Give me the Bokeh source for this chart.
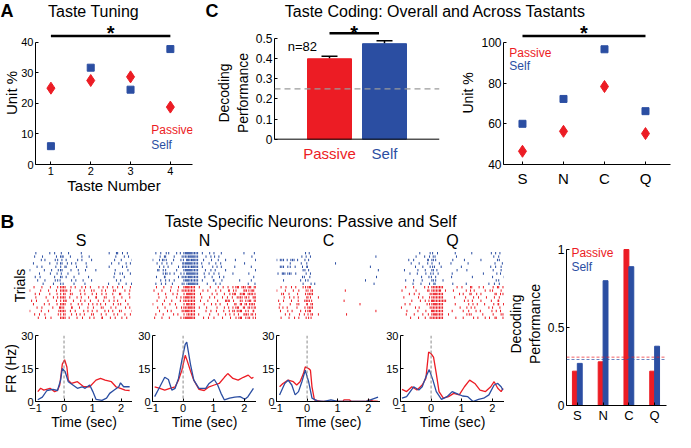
from bokeh.plotting import figure
from bokeh.layouts import row, column
from bokeh.models import Span, FixedTicker, Range1d, Whisker, TeeHead, ColumnDataSource
from bokeh.embed import file_html
from bokeh.resources import INLINE
from bokeh.core.properties import value

RED = "#ec1c24"
BLUE = "#2b4ea2"
FONT = "Liberation Sans"

# ---------------- data ----------------
# Panel A: taste tuning
taste_number = [1, 2, 3, 4]
a_passive = [25.0, 27.5, 28.7, 18.8]
a_self = [6.0, 31.7, 24.5, 37.8]

# Panel C left: overall decoding
c_conditions = ["Passive", "Self"]
c_decoding = [0.40, 0.475]
c_sem = [0.012, 0.015]
c_chance = 0.25
c_n_label = "n=82"

# Panel C right: unit % per tastant
tastants = ["S", "N", "C", "Q"]
c_passive_unit = [46.5, 56.3, 78.3, 55.2]
c_self_unit = [60.0, 72.2, 96.6, 66.2]

# Panel B right: decoding per tastant
b_passive_dec = [0.22, 0.28, 1.0, 0.22]
b_self_dec = [0.27, 0.80, 0.89, 0.38]
b_chance_passive = 0.31
b_chance_self = 0.295

# Panel B PSTHs (time in s, FR in Hz)
s_passive_t = [-0.92, -0.82, -0.71, -0.49, -0.33, -0.23, -0.15, -0.06, 0.02, 0.10, 0.15, 0.26, 0.47, 0.69, 0.90, 1.12, 1.28, 1.44, 1.66, 1.82, 1.98, 2.14, 2.30]
s_passive_fr = [4.5, 6.0, 5.2, 6.0, 4.5, 5.0, 7.5, 17.0, 19.0, 15.7, 9.7, 8.2, 9.0, 6.7, 6.7, 9.7, 10.5, 9.7, 9.0, 6.7, 6.0, 5.2, 5.0]
s_self_t = [-0.92, -0.76, -0.60, -0.39, -0.23, -0.12, -0.06, 0.04, 0.15, 0.31, 0.47, 0.63, 0.74, 0.90, 1.01, 1.12, 1.33, 1.49, 1.60, 1.76, 1.92, 1.98, 2.09, 2.30]
s_self_fr = [0.8, 2.0, 5.0, 5.5, 5.0, 9.7, 15.0, 13.5, 9.0, 7.5, 6.0, 6.7, 6.0, 7.5, 4.5, 1.0, 0.5, 1.5, 3.7, 5.2, 6.7, 8.5, 6.7, 6.7]

n_passive_t = [-0.93, -0.76, -0.60, -0.43, -0.26, -0.15, -0.04, 0.07, 0.13, 0.24, 0.35, 0.52, 0.69, 0.85, 1.02, 1.18, 1.35, 1.46, 1.63, 1.80, 1.97, 2.13, 2.24, 2.30]
n_passive_fr = [6.7, 6.0, 5.2, 6.0, 6.7, 9.7, 14.2, 21.0, 18.7, 14.0, 9.7, 5.5, 5.0, 6.7, 7.5, 8.2, 11.0, 12.7, 10.5, 9.7, 11.0, 12.0, 10.5, 11.0]
n_self_t = [-0.93, -0.76, -0.60, -0.48, -0.37, -0.26, -0.15, -0.04, 0.07, 0.12, 0.24, 0.35, 0.52, 0.74, 0.85, 1.02, 1.13, 1.24, 1.35, 1.52, 1.69, 1.86, 2.02, 2.12, 2.30]
n_self_fr = [2.2, 6.7, 11.0, 10.0, 5.2, 6.0, 10.5, 18.7, 26.0, 27.0, 17.0, 9.7, 6.0, 6.0, 8.2, 10.0, 7.5, 3.7, 0.7, 1.5, 2.0, 2.2, 1.0, 2.2, 6.0]

c_passive_t = [-0.90, -0.79, -0.62, -0.45, -0.34, -0.23, -0.12, -0.06, 0.05, 0.11, 0.16, 0.24, 0.45, 1.17, 1.20, 1.39, 1.45, 1.95, 2.00, 2.15, 2.32]
c_passive_fr = [6.7, 8.2, 9.7, 9.0, 7.5, 9.0, 12.7, 15.7, 15.0, 14.2, 6.7, 0.7, 0.0, 0.0, 0.7, 0.7, 0.0, 0.0, 0.7, 0.3, 0.0]
c_self_t = [-0.90, -0.73, -0.62, -0.50, -0.39, -0.28, -0.17, -0.06, 0.05, 0.16, 0.33, 0.55, 0.78, 1.00, 1.90, 2.07, 2.32]
c_self_fr = [3.0, 8.2, 9.7, 7.5, 3.0, 4.5, 9.0, 14.2, 9.0, 1.5, 0.3, 0.0, 0.7, 0.0, 0.0, 0.7, 2.0]

q_passive_t = [-0.95, -0.80, -0.63, -0.46, -0.29, -0.17, -0.08, 0.00, 0.08, 0.17, 0.26, 0.40, 0.57, 0.74, 0.92, 1.09, 1.26, 1.43, 1.60, 1.78, 1.95, 2.06, 2.18, 2.29, 2.35]
q_passive_fr = [5.5, 4.5, 6.7, 5.2, 7.5, 10.5, 22.5, 21.7, 20.2, 12.7, 4.5, 1.5, 2.2, 3.7, 3.0, 6.7, 9.7, 8.2, 5.2, 4.5, 6.7, 9.0, 6.0, 4.5, 6.0]
q_self_t = [-0.95, -0.80, -0.57, -0.40, -0.29, -0.17, -0.06, 0.06, 0.17, 0.34, 0.52, 0.69, 0.86, 1.03, 1.20, 1.37, 1.55, 1.72, 1.89, 2.06, 2.18, 2.29, 2.35]
q_self_fr = [1.5, 2.2, 6.7, 5.2, 6.7, 11.2, 14.5, 9.7, 4.5, 1.0, 2.2, 4.5, 3.5, 2.5, 2.2, 0.0, 1.0, 1.5, 3.0, 7.5, 8.2, 6.7, 5.2]

# Panel B rasters: one string per trial (top trial first), one char per 0.1 s bin from -1.0 to 2.4 s.
# '.' = no spike, 'a'..'e' = one spike at 0.1/0.3/0.5/0.7/0.9 of the bin, '2'/'3' = that many spikes.
s_self_raster = [
    "..a...d.b. c.e....a.. ......b.da d.b.",
    ".d..b...e. 2a.c...b.d ........c. .bd.",
    "...e.a..cb d.a..e.b.. c.......a. b..e",
    ".b....d..a 2.ce.b..d. .......a.c .e.b",
    "..c.a...d. bda..c..e. ......b... d.a.",
    "a...e..b.c 2..d..a.c. .e......b. ..c.",
    "...b..e..a c.d...b... ........ae d..b",
    ".e.c....b. 2.a.d....c .......e.. .b..",
    "..d..a..cb a..e.b.d.. c.......d. a...",
    "....c..e.. ba..d...b. ......a..c .e.d",
]
s_passive_raster = [
    ".c..a.e..b 22.d.a.bc. a.e.bd.c.a d..b",
    "a..d..b.e. 22bc..d.a. cb.e.a.db. .c.a",
    ".e.b..d..a b2.ca.e.b. d.ae.b.c.d a.e.",
    "..a..c.e.b 22.b.d.a.c .ea.db.e.. c..a",
    "d.b...a.e. b2a.c.e.b. a.d.c.be.a .d..",
    ".b..e.c..a 22.d..ab.c e.bc.a.d.b a.c.",
    "..c.a..d.e 2b.ea.c..b .a.db.e.c. .d.a",
    "a..e..b..d 22.c.a.e.b d.b.e.ac.d b..e",
    ".d.b.a...c b2.e.cd.a. ca.d.b.e.a .c.b",
    "..e..b.a.. 22.a.d.c.e .b.ea.d.b. c.a.",
]
n_self_raster = [
    ".ad.cb.e.a 23322.b.d. a.c......e ...b",
    "..ceb..a.d 22332..c.a bd........ ..c.",
    "a.b2c.e..b a3232.d..b .c.e...a.. ...d",
    ".c.ad.b..e 23322.a.c. d.b....... a...",
    "..bd.a..ce 22232.b..d .ac...e... ..b.",
    ".dacb..e.. 23322..b.a c..e...... ...d",
    "...c2d.a.b b3332.e.c. ad....b... .c..",
    ".b.ea...cd 22322..a.c .e.b...... ...a",
    "..d.bc.a.. 23222.b..e a.d.....c. ..b.",
    ".ae.b.c..d b2332..e.. d.a....... .b.c",
]
n_passive_raster = [
    ".b.d..a.c. 2322.b..e. .c.ad.b2a2 b2a2",
    "c..a.e..bd 2222..c.a. d.b.eacb.e 2c2a",
    ".e..b.d.a. b332.d...c .a.c.b2ad2 a22c",
    "..a.c..e.b 2322..a.d. b.e.c.ad2b 2ce2",
    ".c.e..b..a 2222.d..a. .b.e2ac.db c2a2",
    "a..b.d.c.. b322..e..b d.a.c.ebda 2d2b",
    ".d..a..e.c 2232.b.d.. .a.ce.b2ad a2c2",
    "..b.e.a..d 2322...c.a e..b.a2d2a cbea",
    ".a.c..e.b. b222.a..d. .c.e.bd.ae 2b2d",
    "d..a.c...b 2332..d.b. a.e..c.b2a c2ed",
]
c_self_raster = [
    ".........c d......... .......... ....",
    "........bd .a........ .......... ..c.",
    "a2bcd2e..b c......... .......... ....",
    "....c...ae .........b .......... ....",
    ".2bdc.a.ce a......... .......... d...",
    "........db c......... .......... ...b",
    "ce2d2.b..d .a........ .......... ....",
    "........ca e......... .......... ..d.",
    "..b....e.c b......... .........a ....",
    "........d. .bc....... .......... .e..",
]
c_passive_raster = [
    ".c.ae.b.dc 2a........ .......... ....",
    "a.e..c.b.d b2........ ..c....... ....",
    ".db.a.e..c 22........ .......... ....",
    "..c.bd.a.e ba.d...... .......... ....",
    "d.b.e..a.2 2c........ ..a....... ....",
    ".a..c.db.e a2........ .......b.. ....",
    "e.ac..d..b 22........ .......... ....",
    ".b.d.a.e.c 2a........ .......... ..c.",
    "..e.b..c.a b2.d...... ..e....... ....",
    ".c..ae.b.d cb........ .......... ....",
]
q_self_raster = [
    "......b..d c.a....e.. ...b.....d .ac.",
    ".....a.e.c db......b. .......... c.a.",
    "..d.b...ea 2c.....a.. e.....b... .db.",
    "...c..a.e. b.d...c... ..a....... e..b",
    "....e..b.d ca.b.....e .........c .ae.",
    ".b...d..a. 2e......c. .d........ b.e.",
    "...a.c..be d.b...e... .......a.. .cd.",
    "......e..b ac....d... ...c...... a..e",
    ".d..b..a.. 2c.e...... .......... .ba.",
    "....a.d..c eb.....a.. .c......e. d.b.",
]
q_passive_raster = [
    ".d..b..e.a 2222....c. a.eb.d.a.. bdac",
    "c....a..eb 222ad..b.. .ce.a..d.b a.e.",
    "..e.c.a..d 2322.....b c.dae.b... ebdc",
    ".a...e.b.c 2222...d.. .b.e.c..a. d.b.",
    "...d..c.ab 32222..... e.ac..b..d .ea.",
    ".c.a....dc 2322...e.. ..bd.a.c.. cead",
    "b...e.a..d 2222.....c .d.ab...e. a.c.",
    "..a..d..b. 3222..e... c.b.d.a..e .bd.",
    ".e..c..b.a 2322.d.... .dca..e... b.ec",
    "...b.e..ad 2222....a. c..e.b.d.a eb.c",
]

psth_ticks_x = [-1, 0, 1, 2]
psth_ticks_y = [0, 15, 30]


# ---------------- helpers ----------------
def base_fig(w, h, xr, yr, bl, br, bt, bb, tick_size="12px"):
    p = figure(width=w, height=h, x_range=Range1d(*xr), y_range=Range1d(*yr),
               output_backend="svg", toolbar_location=None,
               min_border_left=bl, min_border_right=br, min_border_top=bt, min_border_bottom=bb)
    p.grid.visible = False
    p.outline_line_color = None
    p.background_fill_color = "white"
    p.border_fill_color = "white"
    for ax in p.axis:
        ax.axis_line_color = "black"
        ax.axis_line_width = 1
        ax.major_tick_in = 3
        ax.major_tick_out = 0
        ax.major_tick_line_color = "black"
        ax.minor_tick_line_color = None
        ax.major_label_text_font = FONT
        ax.major_label_text_font_size = tick_size
        ax.major_label_text_color = "black"
        ax.major_label_standoff = 2
        ax.axis_label_text_font = FONT
        ax.axis_label_text_font_style = "normal"
        ax.axis_label_text_font_size = "14px"
        ax.axis_label_text_color = "black"
        ax.axis_label_standoff = 2
    return p


def strip_fig(w, h):
    p = figure(width=w, height=h, x_range=Range1d(0, w), y_range=Range1d(0, h),
               output_backend="svg", toolbar_location=None,
               min_border_left=0, min_border_right=0, min_border_top=0, min_border_bottom=0)
    p.axis.visible = False
    p.grid.visible = False
    p.outline_line_color = None
    return p


def txt(p, x, y, s, color="black", size="14px", align="left", baseline="middle", style="normal"):
    p.text(x=[x], y=[y], text=[s], text_color=color, text_font=value(FONT),
           text_font_size=size, text_align=align, text_baseline=baseline,
           text_font_style=style)


# ---------------- title strip (top) ----------------
strip1 = strip_fig(675, 21)
txt(strip1, 0, 10.5, "A", size="18px", style="bold")
txt(strip1, 93, 10.5, "Taste Tuning", size="16px", align="center")
txt(strip1, 205, 10.5, "C", size="18px", style="bold")
txt(strip1, 435, 10.5, "Taste Coding: Overall and Across Tastants", size="16px", align="center")

# ---------------- Panel A ----------------
pA = base_fig(197, 175, (0.613, 4.556), (0, 46.83), 29, 5, 0, 31, tick_size="11px")
pA.xaxis.ticker = FixedTicker(ticks=taste_number)
pA.yaxis.ticker = FixedTicker(ticks=[0, 10, 20, 30, 40])
pA.yaxis.bounds = (0, 40)
pA.xaxis.axis_label = "Taste Number"
pA.xaxis.axis_label_text_font_size = "15px"
pA.xaxis.axis_label_standoff = -1
pA.yaxis.axis_label = "Unit %"
pA.yaxis.axis_label_text_font_size = "15px"
pA.yaxis.axis_label_standoff = -2
pA.scatter(taste_number, a_passive, marker="diamond", size=12, color=RED)
pA.scatter(taste_number, a_self, marker="square", size=7, color=BLUE)
pA.segment(x0=[1], x1=[4], y0=[42.11], y1=[42.11], line_color="black", line_width=2.5)
txt(pA, 2.5, 46.67, "*", size="20px", align="center", baseline="top", style="bold")
txt(pA, 3.52, 11.4, "Passive", color=RED, size="12px")
txt(pA, 3.52, 6.5, "Self", color=BLUE, size="12px")

# ---------------- Panel C left ----------------
pC1 = base_fig(250, 175, (0, 3), (-0.126, 0.5854), 77, 8, 0, 0)
pC1.xaxis.visible = False
pC1.yaxis.ticker = FixedTicker(ticks=[0, 0.1, 0.2, 0.3, 0.4, 0.5])
pC1.yaxis.major_label_overrides = {0: "0"}
pC1.yaxis.bounds = (0, 0.5)
pC1.yaxis.axis_label = "Decoding\nPerformance"
cx = [1, 2]
pC1.vbar(x=cx, top=c_decoding, width=0.8, color=[RED, BLUE])
src = ColumnDataSource(dict(x=cx, lo=c_decoding, hi=[d + e for d, e in zip(c_decoding, c_sem)]))
pC1.add_layout(Whisker(base="x", upper="hi", lower="lo", source=src, line_color="black", line_width=1.5,
                       upper_head=TeeHead(size=16, line_color="black", line_width=1.5), lower_head=None))
pC1.add_layout(Span(location=0, dimension="width", line_color="black", line_width=1))
pC1.add_layout(Span(location=c_chance, dimension="width", line_color="#9a9a9a", line_width=1.2, line_dash="6 4"))
pC1.segment(x0=[1.0], x1=[1.9], y0=[0.5264], y1=[0.5264], line_color="black", line_width=2.5)
txt(pC1, 1.45, 0.5833, "*", size="20px", align="center", baseline="top", style="bold")
txt(pC1, 0.24, 0.46, c_n_label, size="13px")
for xi, name, col in zip(cx, c_conditions, [RED, BLUE]):
    txt(pC1, xi, -0.069, name, color=col, size="15px", align="center")

# ---------------- Panel C right ----------------
pC2 = base_fig(228, 175, (0.537, 4.61), (40, 110.24), 56, 5, 0, 31)
tx = [1, 2, 3, 4]
pC2.xaxis.ticker = FixedTicker(ticks=tx)
pC2.xaxis.major_label_overrides = {i: t for i, t in zip(tx, tastants)}
pC2.xaxis.major_label_text_font_size = "15px"
pC2.xaxis.major_label_standoff = 5
pC2.yaxis.ticker = FixedTicker(ticks=[40, 60, 80, 100])
pC2.yaxis.bounds = (40, 100)
pC2.yaxis.axis_label = "Unit %"
pC2.yaxis.axis_label_text_font_size = "14px"
pC2.scatter(tx, c_passive_unit, marker="diamond", size=12, color=RED)
pC2.scatter(tx, c_self_unit, marker="square", size=7, color=BLUE)
pC2.segment(x0=[1], x1=[4], y0=[103.17], y1=[103.17], line_color="black", line_width=2.5)
txt(pC2, 2.5, 110.0, "*", size="20px", align="center", baseline="top", style="bold")
txt(pC2, 0.68, 94.6, "Passive", color=RED, size="12px")
txt(pC2, 0.68, 88.3, "Self", color=BLUE, size="12px")

# ---------------- Panel B strip ----------------
stripB = strip_fig(504, 54)
txt(stripB, 0, 29, "B", size="19px", style="bold")
txt(stripB, 310, 29, "Taste Specific Neurons: Passive and Self", size="16px", align="center")

# ---------------- rasters and PSTHs ----------------
POS = {"a": 0.1, "b": 0.3, "c": 0.5, "d": 0.7, "e": 0.9}


def spikes(rows, offset):
    x, y0, y1 = [], [], []
    n_rows = len(rows)
    for k, r in enumerate(rows):
        s = r.replace(" ", "")
        base = offset + (n_rows - 1 - k)
        for i, ch in enumerate(s):
            if ch in POS:
                fr = [POS[ch]]
            elif ch.isdigit() and int(ch) > 0:
                n = int(ch)
                fr = [(j + 0.5) / n for j in range(n)]
            else:
                fr = []
            for f in fr:
                x.append(-1.0 + 0.1 * i + 0.1 * f)
                y0.append(base + 0.15)
                y1.append(base + 0.85)
    return x, y0, y1


panels = [
    ("S", s_self_raster, s_passive_raster, s_self_t, s_self_fr, s_passive_t, s_passive_fr),
    ("N", n_self_raster, n_passive_raster, n_self_t, n_self_fr, n_passive_t, n_passive_fr),
    ("C", c_self_raster, c_passive_raster, c_self_t, c_self_fr, c_passive_t, c_passive_fr),
    ("Q", q_self_raster, q_passive_raster, q_self_t, q_self_fr, q_passive_t, q_passive_fr),
]

raster_figs, psth_figs = [], []
x_left = 0
for idx, (name, sr, pr, st, sf, pt, pf) in enumerate(panels):
    first = idx == 0
    bl = 29 if first else 20
    fw = 103 if first else 104
    w = bl + fw
    rf = base_fig(w, 72, (-1, 2.4), (0, 20), bl, 0, 1, 3)
    rf.xaxis.visible = False
    if first:
        rf.yaxis.ticker = FixedTicker(ticks=[])
        rf.yaxis.axis_line_color = None
        rf.yaxis.major_label_text_font_size = "0px"
        rf.yaxis.axis_label = "Trials"
        rf.yaxis.axis_label_standoff = 2
    else:
        rf.yaxis.visible = False
    xs, a, b = spikes(sr, 10)
    rf.segment(x0=xs, x1=xs, y0=a, y1=b, line_color=BLUE, line_width=1)
    xs, a, b = spikes(pr, 0)
    rf.segment(x0=xs, x1=xs, y0=a, y1=b, line_color=RED, line_width=1)
    txt(stripB, x_left + bl + fw / 2, 10, name, size="16px", align="center")
    raster_figs.append(rf)

    p = base_fig(w, 110, (-1, 2.4), (0, 30), bl, 0, 13, 31, tick_size="11px")
    p.xaxis.ticker = FixedTicker(ticks=psth_ticks_x)
    p.yaxis.ticker = FixedTicker(ticks=psth_ticks_y)
    p.xaxis.axis_label = "Time (sec)"
    p.xaxis.axis_label_standoff = -1
    p.add_layout(Span(location=0, dimension="height", line_color="#8a8a8a", line_width=1, line_dash="3 2"))
    p.line(pt, pf, line_color=RED, line_width=1.3)
    p.line(st, sf, line_color=BLUE, line_width=1.3)
    if first:
        p.yaxis.axis_label = "FR (Hz)"
        p.yaxis.axis_label_standoff = -1
    psth_figs.append(p)
    x_left += w

# ---------------- Panel B right bar chart ----------------
pB = base_fig(171, 236, (0.58, 4.46), (0, 1.045), 60, 9, 46, 27)
pB.xaxis.ticker = FixedTicker(ticks=tx)
pB.xaxis.major_label_overrides = {i: t for i, t in zip(tx, tastants)}
pB.xaxis.major_label_text_font_size = "13px"
pB.yaxis.ticker = FixedTicker(ticks=[0, 0.5, 1])
pB.yaxis.major_label_overrides = {0: "0", 0.5: "0.5", 1: "1"}
pB.yaxis.bounds = (0, 1)
pB.yaxis.axis_label = "Decoding\nPerformance"
pB.vbar(x=[t - 0.095 for t in tx], top=b_passive_dec, width=0.19, color=RED)
pB.vbar(x=[t + 0.095 for t in tx], top=b_self_dec, width=0.19, color=BLUE)
pB.add_layout(Span(location=b_chance_passive, dimension="width", line_color=RED, line_alpha=0.7, line_width=1, line_dash="3 2"))
pB.add_layout(Span(location=b_chance_self, dimension="width", line_color=BLUE, line_alpha=0.7, line_width=1, line_dash="3 2"))
txt(pB, 0.77, 0.98, "Passive", color=RED, size="12px")
txt(pB, 0.77, 0.89, "Self", color=BLUE, size="12px")

# ---------------- layout ----------------
top_row = row(pA, pC1, pC2, spacing=0)
b_left = column(stripB, row(*raster_figs, spacing=0), row(*psth_figs, spacing=0), spacing=0)
bottom_row = row(b_left, pB, spacing=0)
layout = column(strip1, top_row, bottom_row, spacing=0)

open("out.html", "w").write(file_html(layout, INLINE))
